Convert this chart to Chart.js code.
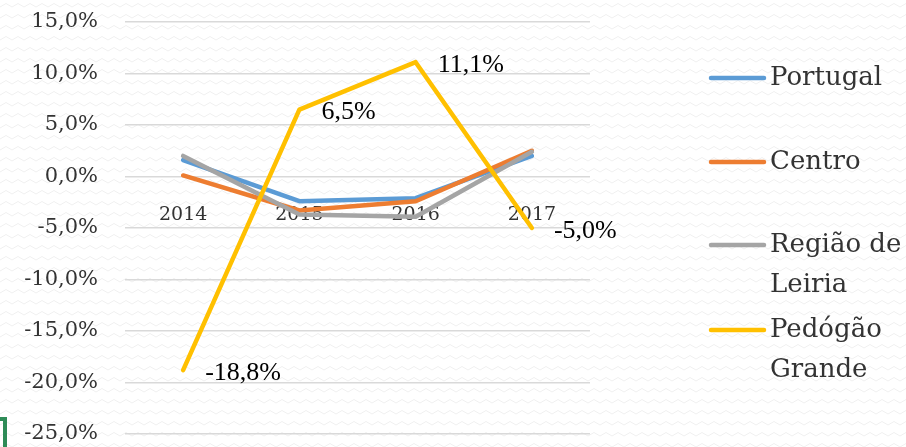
<!DOCTYPE html>
<html>
<head>
<meta charset="utf-8">
<script src="https://cdn.jsdelivr.net/npm/chart.js@4/dist/chart.umd.min.js"></script>
<style>
  html, body { margin: 0; padding: 0; background: #ffffff; }
  #wrap { position: relative; width: 906px; height: 447px; }
  #bracket { position: absolute; left: 0; top: 417px; width: 7px; height: 30px;
             border-top: 4px solid #2e8b57; border-right: 4px solid #2e8b57; box-sizing: border-box; }
</style>
</head>
<body>
<div id="wrap">
  <canvas id="c" width="906" height="447"></canvas>
  <div id="bracket"></div>
</div>
<script>
const categories = ['2014', '2015', '2016', '2017'];
const seriesNames = ['Portugal', 'Centro', 'Região de Leiria', 'Pedógão Grande'];
const legendLines = [['Portugal'], ['Centro'], ['Região de', 'Leiria'], ['Pedógão', 'Grande']];
const portugal = [1.6, -2.4, -2.1, 2.0];
const centro = [0.1, -3.3, -2.4, 2.5];
const leiria = [2.0, -3.7, -3.9, 2.4];
const pedrogao = [-18.8, 6.5, 11.1, -5.0];
const yTicks = [15, 10, 5, 0, -5, -10, -15, -20, -25];
const colors = ['#5B9BD5', '#ED7D31', '#A5A5A5', '#FFC000'];

const fmt = v => v.toFixed(1).replace('.', ',') + '%';

const bgPlugin = {
  id: 'bg',
  beforeDraw(chart) {
    const ctx = chart.ctx;
    const pc = document.createElement('canvas');
    pc.width = 12; pc.height = 11;
    const p = pc.getContext('2d');
    p.fillStyle = '#ffffff'; p.fillRect(0, 0, 12, 11);
    p.strokeStyle = '#f0f0f0'; p.lineWidth = 1;
    p.beginPath(); p.moveTo(0, 7); p.lineTo(6, 3.5); p.lineTo(12, 7); p.stroke();
    ctx.save();
    ctx.fillStyle = ctx.createPattern(pc, 'repeat');
    ctx.fillRect(0, 0, chart.width, chart.height);
    ctx.restore();
  }
};

const labelPlugin = {
  id: 'dlabels',
  afterDatasetsDraw(chart) {
    const ctx = chart.ctx;
    const meta = chart.getDatasetMeta(3);
    ctx.save();
    ctx.font = '26px "Liberation Serif"';
    ctx.fillStyle = '#000000';
    ctx.textAlign = 'left';
    ctx.textBaseline = 'middle';
    meta.data.forEach((pt, i) => {
      ctx.fillText(fmt(pedrogao[i]), pt.x + 22, pt.y + 3);
    });
    ctx.restore();
  }
};

const legendPlugin = {
  id: 'customLegend',
  afterDraw(chart) {
    const ctx = chart.ctx;
    const ys = [78, 162, 245, 330];
    ctx.save();
    ctx.font = '26px "DejaVu Serif"';
    ctx.textAlign = 'left';
    ctx.textBaseline = 'middle';
    legendLines.forEach((lines, i) => {
      const y = ys[i];
      ctx.strokeStyle = colors[i];
      ctx.lineWidth = 4.5;
      ctx.lineCap = 'round';
      ctx.beginPath(); ctx.moveTo(711, y); ctx.lineTo(764, y); ctx.stroke();
      ctx.fillStyle = '#333333';
      lines.forEach((t, j) => ctx.fillText(t, 770, y + j * 40));
    });
    ctx.restore();
  }
};

const series = [portugal, centro, leiria, pedrogao];
new Chart(document.getElementById('c'), {
  type: 'line',
  data: {
    labels: categories,
    datasets: series.map((d, i) => ({
      label: seriesNames[i],
      data: d,
      borderColor: colors[i],
      backgroundColor: colors[i],
      borderWidth: 4.5,
      pointRadius: 0,
      tension: 0,
      borderCapStyle: 'round',
      borderJoinStyle: 'round',
      order: 3 - i
    }))
  },
  options: {
    responsive: false,
    animation: false,
    layout: { padding: { top: 22, bottom: 13, right: 316, left: 0 } },
    plugins: { legend: { display: false }, tooltip: { enabled: false } },
    scales: {
      x: {
        type: 'category',
        position: { y: 0 },
        offset: true,
        afterFit(scale) { scale.height = 0; scale.paddingLeft = 0; scale.paddingRight = 0; },
        grid: { display: false, drawTicks: false },
        border: { display: false },
        ticks: { color: '#333333', font: { family: 'DejaVu Serif', size: 19 }, padding: 27 }
      },
      y: {
        min: -25, max: 15,
        afterBuildTicks(scale) { scale.ticks = yTicks.map(v => ({ value: v })); },
        afterFit(scale) { scale.width = 125; scale.paddingTop = 0; scale.paddingBottom = 0; },
        grid: { color: '#d9d9d9', lineWidth: 1.5, drawTicks: false },
        border: { display: false },
        ticks: {
          color: '#333333', padding: 27,
          font: { family: 'DejaVu Serif', size: 21 },
          callback: v => fmt(v)
        }
      }
    }
  },
  plugins: [bgPlugin, labelPlugin, legendPlugin]
});
</script>
</body>
</html>
